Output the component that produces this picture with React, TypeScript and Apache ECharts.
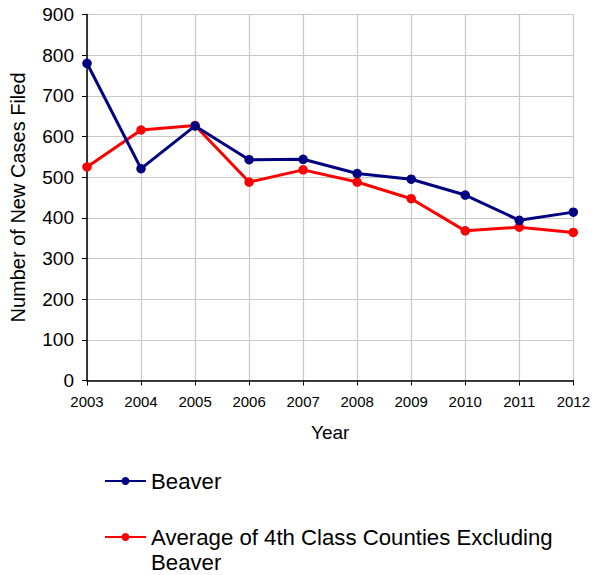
import React, { useEffect, useRef } from "react";
import * as echarts from "echarts";

const years = ["2003", "2004", "2005", "2006", "2007", "2008", "2009", "2010", "2011", "2012"];
const beaver = [780, 521, 626, 543, 544, 509, 495, 456, 394, 414];
const average = [525, 616, 627, 488, 518, 488, 447, 368, 377, 364];
const seriesNames = ["Beaver", "Average of 4th Class Counties Excluding Beaver"];
const yMin = 0;
const yMax = 900;
const yInterval = 100;

const FONT = "'Liberation Sans', Arial, sans-serif";

const legendBase = {
  orient: "vertical",
  left: 104,
  padding: 0,
  itemGap: 6,
  itemWidth: 41,
  itemHeight: 10,
  itemStyle: { borderWidth: 0 },
  textStyle: { fontSize: 22.2, color: "#000", fontFamily: FONT, lineHeight: 25 },
};

export default function App() {
  const ref = useRef<HTMLDivElement>(null);
  useEffect(() => {
    if (!ref.current) return;
    const chart = echarts.init(ref.current, null, { renderer: "svg" });
    chart.setOption({
      animation: false,
      backgroundColor: "#ffffff",
      textStyle: { fontFamily: FONT, color: "#000" },
      grid: { left: 86.5, right: 15.5, top: 14.5, bottom: 194.5, containLabel: false },
      xAxis: {
        type: "category",
        data: years,
        boundaryGap: false,
        name: "Year",
        nameLocation: "middle",
        nameGap: 42,
        nameTextStyle: { fontSize: 19, color: "#000", fontFamily: FONT },
        axisLine: { show: true, lineStyle: { color: "#000", width: 1.5 } },
        axisTick: { show: true, alignWithLabel: true, length: 5, lineStyle: { color: "#000" } },
        axisLabel: { fontSize: 15, color: "#000", margin: 13, fontFamily: FONT },
        splitLine: { show: true, lineStyle: { color: "#c8c8c8", width: 1.2 } },
      },
      yAxis: {
        type: "value",
        min: yMin,
        max: yMax,
        interval: yInterval,
        name: "Number of New Cases Filed",
        nameLocation: "middle",
        nameGap: 59,
        nameTextStyle: { fontSize: 20, color: "#000", fontFamily: FONT },
        axisLine: { show: true, lineStyle: { color: "#000", width: 1.5 } },
        axisTick: { show: true, length: 5, lineStyle: { color: "#000" } },
        axisLabel: { fontSize: 19, color: "#000", margin: 13, fontFamily: FONT },
        splitLine: { show: true, lineStyle: { color: "#c8c8c8", width: 1.2 } },
      },
      legend: [
        {
          ...legendBase,
          top: 468.5,
          data: [{ name: seriesNames[0] }],
        },
        {
          ...legendBase,
          top: 499.5,
          data: [{ name: seriesNames[1] }],
          formatter: (name: string) => {
            const i = name.lastIndexOf(" ");
            return " \n" + name.slice(0, i) + "\n" + name.slice(i + 1);
          },
        },
      ],
      series: [
        {
          name: seriesNames[0],
          type: "line",
          data: beaver,
          symbol: "circle",
          symbolSize: 9.5,
          lineStyle: { color: "#000080", width: 3 },
          itemStyle: { color: "#000080" },
          z: 3,
        },
        {
          name: seriesNames[1],
          type: "line",
          data: average,
          symbol: "circle",
          symbolSize: 9.5,
          lineStyle: { color: "#ff0000", width: 3 },
          itemStyle: { color: "#ff0000" },
          z: 2,
        },
      ],
    });
    return () => chart.dispose();
  }, []);
  return <div ref={ref} style={{ width: 593, height: 575, position: "absolute", left: 0, top: 0 }} />;
}
